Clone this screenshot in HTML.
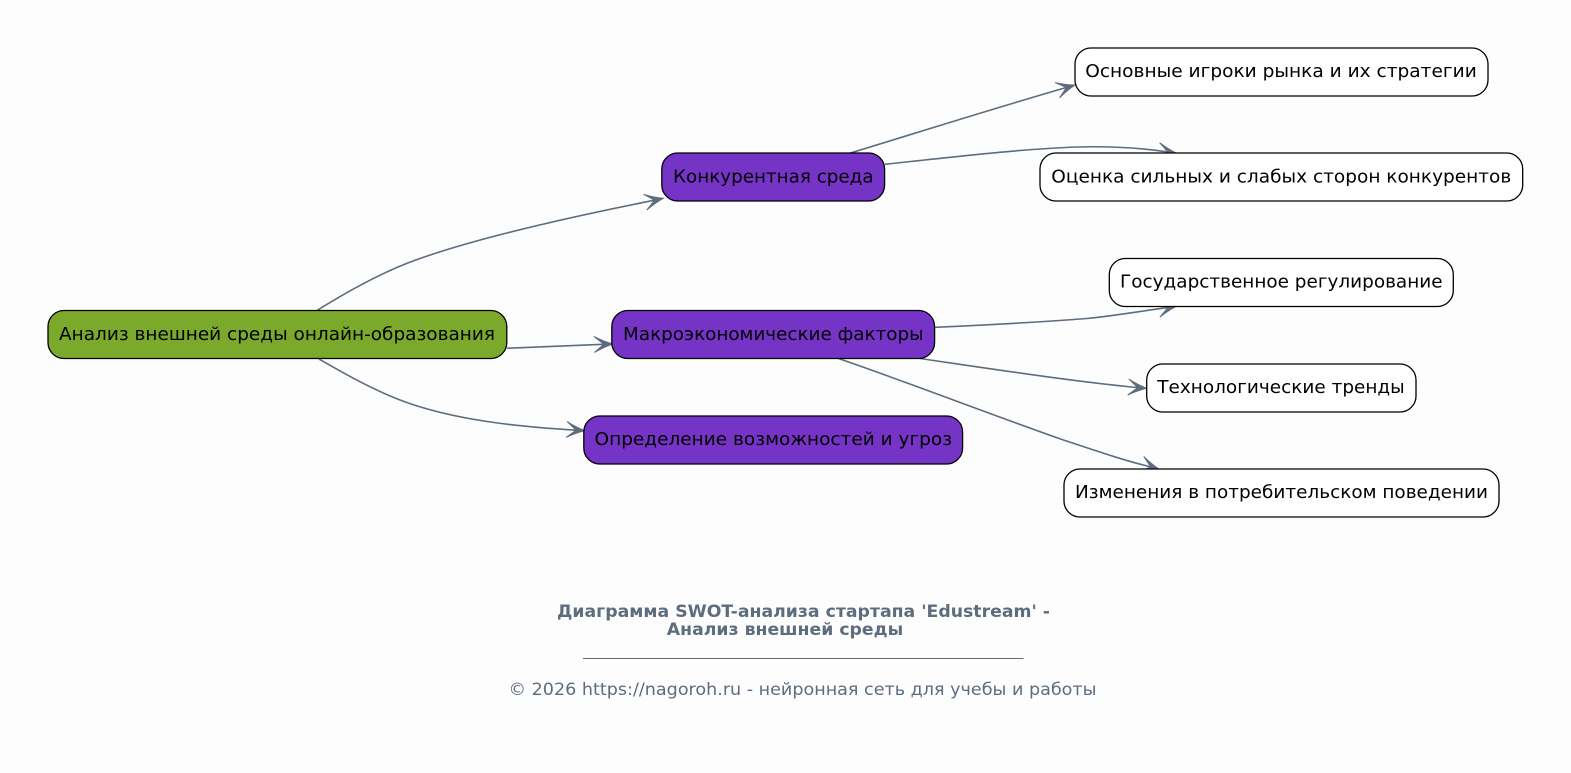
<!DOCTYPE html>
<html><head><meta charset="utf-8"><style>
html,body{margin:0;padding:0;background:#fdfdfd;width:1571px;height:773px;overflow:hidden}
svg{display:block}
text{font-family:"DejaVu Sans",sans-serif}
.n{font-size:18px;fill:#000;text-anchor:middle}
.e{fill:none;stroke:#5d6d7e;stroke-width:1.6}
.a{fill:#5d6d7e;stroke:#5d6d7e;stroke-width:1;stroke-linejoin:miter}
.b{fill:#fff;stroke:#000;stroke-width:1.3}
.p{fill:#7634c6;stroke:#000;stroke-width:1.3}
</style></head><body>
<svg width="1571" height="773" viewBox="0 0 1571 773" xmlns="http://www.w3.org/2000/svg">
<defs><path id="v" d="M0 0Q-9 -2.800 -18.500 -8Q-13 -3.500 -9 0Q-13 3.500 -18.500 8Q-9 2.800 0 0Z"/></defs>
<rect width="1571" height="773" fill="#fdfdfd"/>
<path class="e" d="M317 310.500C345 293 378 274 413 261C481 236 590 213 657 199.700"/>
<use class="a" href="#v" transform="translate(663.300 198.300) rotate(-12)"/>
<path class="e" d="M507 348.200C541 347 576 345.300 606 344.200"/>
<use class="a" href="#v" transform="translate(612.700 344) rotate(-1.500)"/>
<path class="e" d="M319 359C347 375 378 393 413 404.600C466 422 526 427 578 430.300"/>
<use class="a" href="#v" transform="translate(585 430.700) rotate(3.800)"/>
<path class="e" d="M849.500 153.300C916 133 1002 106 1068 87"/>
<use class="a" href="#v" transform="translate(1075 85) rotate(-16.500)"/>
<path class="e" d="M885 164.300C962 156 1022 149 1077 147C1112 146 1142 148 1170 152.300"/>
<use class="a" href="#v" transform="translate(1176.700 153.300) rotate(8.500)"/>
<path class="e" d="M935.300 327.300C987 325 1042 322 1087 318.500C1117 315.500 1142 311 1170 307.200"/>
<use class="a" href="#v" transform="translate(1176.700 306) rotate(-10)"/>
<path class="e" d="M920 358.500C992 369 1077 382 1140 387.800"/>
<use class="a" href="#v" transform="translate(1146.700 388.300) rotate(4)"/>
<path class="e" d="M838.500 358.500C907 382 992 415 1062 439.500C1092 449.500 1122 460 1153 467.500"/>
<use class="a" href="#v" transform="translate(1159.300 469.300) rotate(16)"/>
<rect x="48" y="310.500" width="458.800" height="48" rx="16" fill="#7aa92b" stroke="#000" stroke-width="1.3"/>
<text class="n" x="277" y="340" textLength="436" lengthAdjust="spacingAndGlyphs">Анализ внешней среды онлайн-образования</text>
<rect class="p" x="661.800" y="153" width="222.800" height="48" rx="16"/>
<text class="n" x="773.300" y="182.500" textLength="200.500" lengthAdjust="spacingAndGlyphs">Конкурентная среда</text>
<rect class="p" x="611.800" y="310.500" width="322.800" height="48" rx="16"/>
<text class="n" x="773.300" y="340" textLength="300.500" lengthAdjust="spacingAndGlyphs">Макроэкономические факторы</text>
<rect class="p" x="583.800" y="416" width="378.800" height="48" rx="16"/>
<text class="n" x="773.300" y="445" textLength="357.500" lengthAdjust="spacingAndGlyphs">Определение возможностей и угроз</text>
<rect class="b" x="1075" y="48" width="413" height="48" rx="16"/>
<text class="n" x="1281" y="77" textLength="391.500" lengthAdjust="spacingAndGlyphs">Основные игроки рынка и их стратегии</text>
<rect class="b" x="1040" y="153" width="482.700" height="48" rx="16"/>
<text class="n" x="1281.300" y="182.500" textLength="460" lengthAdjust="spacingAndGlyphs">Оценка сильных и слабых сторон конкурентов</text>
<rect class="b" x="1109.300" y="258.500" width="344" height="48" rx="16"/>
<text class="n" x="1281.300" y="287.500" textLength="322.500" lengthAdjust="spacingAndGlyphs">Государственное регулирование</text>
<rect class="b" x="1146.700" y="364" width="269.300" height="48" rx="16"/>
<text class="n" x="1281" y="393" textLength="247.500" lengthAdjust="spacingAndGlyphs">Технологические тренды</text>
<rect class="b" x="1064" y="469" width="435" height="48" rx="16"/>
<text class="n" x="1281.500" y="498" textLength="413" lengthAdjust="spacingAndGlyphs">Изменения в потребительском поведении</text>
<text x="803.500" y="617" text-anchor="middle" font-size="16.500" font-weight="bold" fill="#5d6d7e" textLength="493" lengthAdjust="spacingAndGlyphs">Диаграмма SWOT-анализа стартапа 'Edustream' -</text>
<text x="785" y="635" text-anchor="middle" font-size="16.500" font-weight="bold" fill="#5d6d7e" textLength="236.500" lengthAdjust="spacingAndGlyphs">Анализ внешней среды</text>
<line x1="583" y1="658.500" x2="1023.500" y2="658.500" stroke="#5d6d7e" stroke-width="1"/>
<text x="802.500" y="695" text-anchor="middle" font-size="16.500" fill="#5d6d7e" textLength="588" lengthAdjust="spacingAndGlyphs">© 2026 https://nagoroh.ru - нейронная сеть для учебы и работы</text>
</svg>
</body></html>
